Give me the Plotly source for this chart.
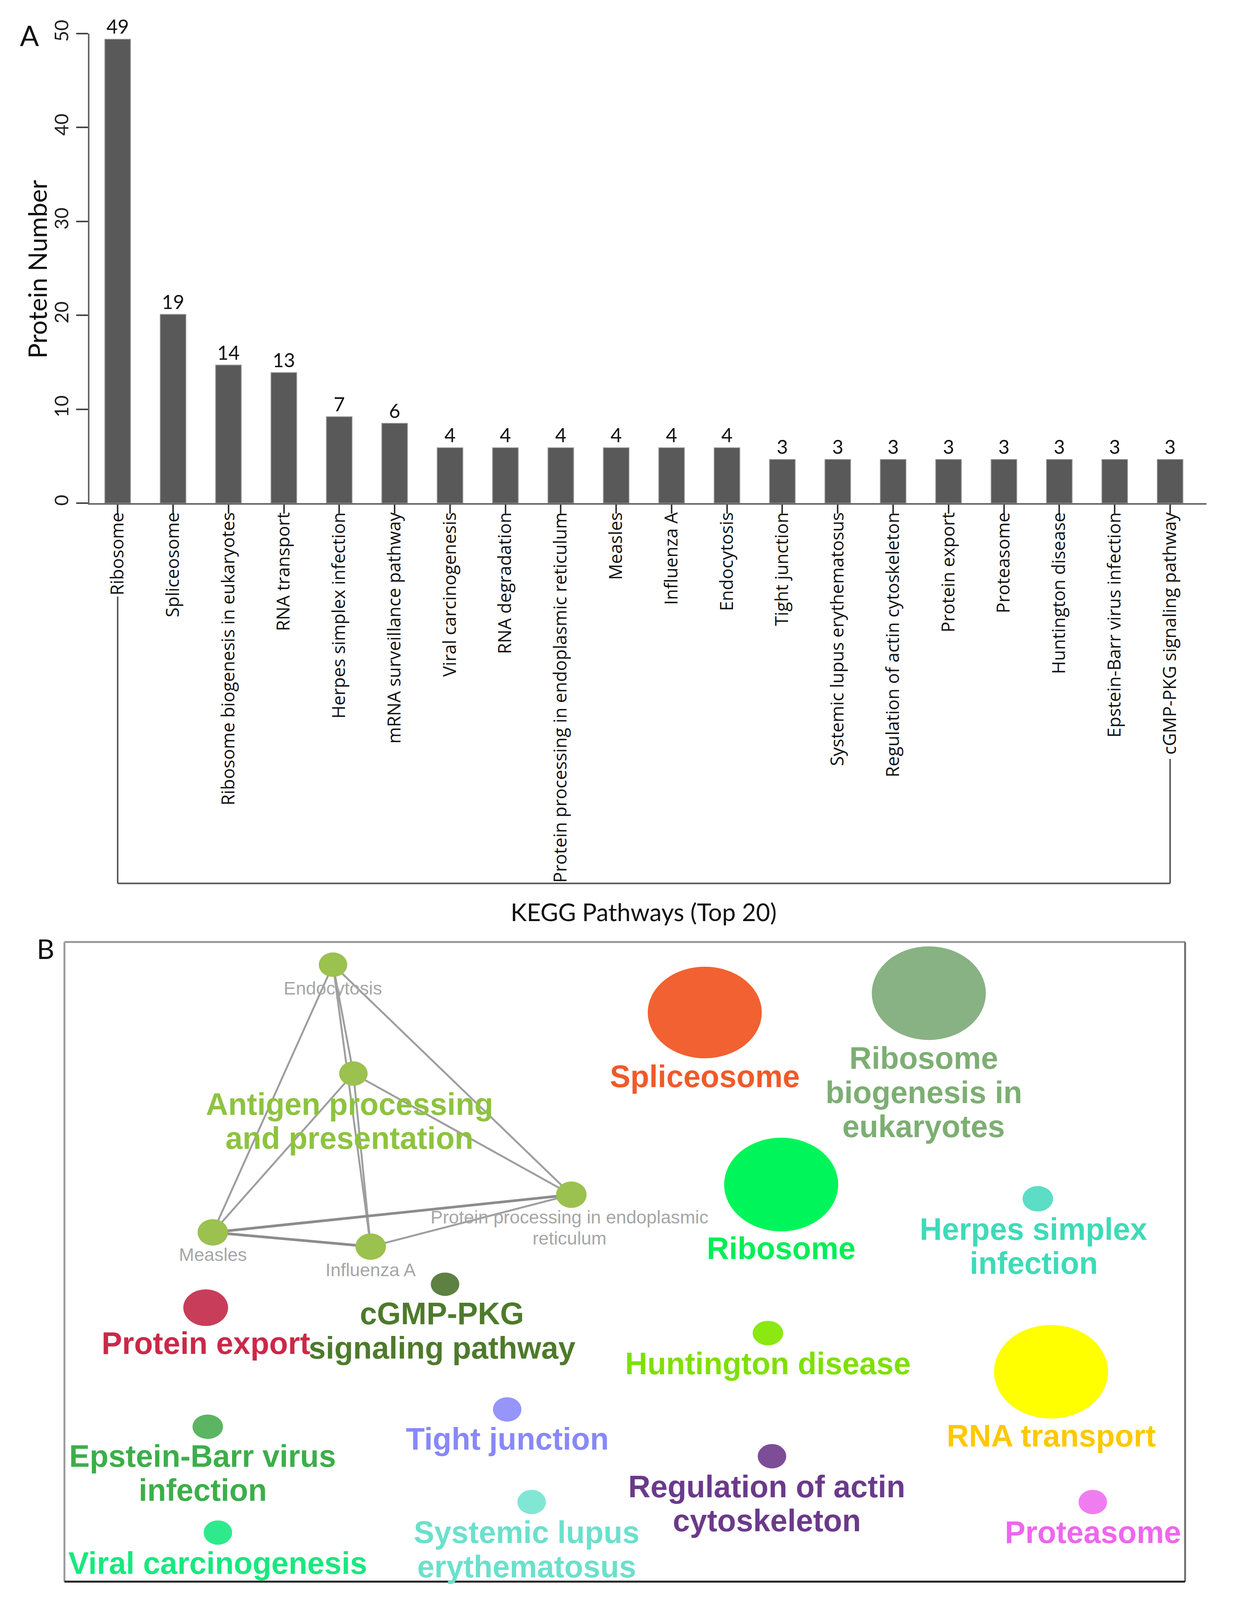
import plotly.graph_objects as go

# Calibration of the photographed page against the 3202x4215 reference grid
# (measured from earlier renders): device = KX*css_x ; device = KY*css_y + OY
KX, KY, OY = 1.0323, 1.0227, 31.6
WC = int(round(3202 / KX))
HC = int(round((4215 - OY) / KY))
KF = 1.028


def fx(d):
    return (d / KX) / WC


def fy(d):
    return 1 - ((d - OY) / KY) / HC


def fs(d):
    return d / KF


# ---------------- Panel A data ----------------
pathways = [
    "Ribosome", "Spliceosome", "Ribosome biogenesis in eukaryotes", "RNA transport",
    "Herpes simplex infection", "mRNA surveillance pathway", "Viral carcinogenesis",
    "RNA degradation", "Protein processing in endoplasmic reticulum", "Measles",
    "Influenza A", "Endocytosis", "Tight junction", "Systemic lupus erythematosus",
    "Regulation of actin cytoskeleton", "Protein export", "Proteasome",
    "Huntington disease", "Epstein-Barr virus infection", "cGMP-PKG signaling pathway",
]
protein_counts = [49, 19, 14, 13, 7, 6, 4, 4, 4, 4, 4, 4, 3, 3, 3, 3, 3, 3, 3, 3]
bar_heights = [49.4, 20.1, 14.7, 13.9, 9.2, 8.5, 5.9, 5.9, 5.9, 5.9, 5.9, 5.9,
               4.65, 4.65, 4.65, 4.65, 4.65, 4.65, 4.65, 4.65]
y_ticks = [0, 10, 20, 30, 40, 50]

# ---------------- Panel B data (network layout units) ----------------
node_names = [
    "Endocytosis", "Antigen processing and presentation",
    "Protein processing in endoplasmic reticulum", "Measles", "Influenza A",
    "Spliceosome", "Ribosome biogenesis in eukaryotes", "Ribosome",
    "Herpes simplex infection", "cGMP-PKG signaling pathway", "Protein export",
    "Huntington disease", "RNA transport", "Epstein-Barr virus infection",
    "Tight junction", "Regulation of actin cytoskeleton",
    "Systemic lupus erythematosus", "Viral carcinogenesis", "Proteasome",
]
node_x = [325, 345, 559, 207, 362, 690, 910, 765, 1017, 435, 200, 752, 1030, 202, 496, 756, 520, 212, 1071]
node_y = [945, 1052, 1171, 1208, 1222, 992, 973, 1161, 1175, 1259, 1282, 1307, 1345, 1399, 1382, 1428, 1473, 1503, 1473]
node_w = [28, 28, 30, 30, 30, 112, 112, 112, 30, 28, 44, 30, 112, 30, 28, 28, 28, 28, 28]
node_h = [24, 24, 26, 26, 26, 90, 92, 92, 25, 23, 36, 24, 92, 24, 24, 24, 24, 24, 24]
node_color = ["#9bc14e", "#9bc14e", "#9bc14e", "#9bc14e", "#9bc14e", "#f26131",
              "#88b283", "#00f55a", "#5cdec6", "#5e8043", "#c83e5a", "#8be810",
              "#ffff00", "#5bb562", "#9595fa", "#7e4d98", "#82e6d5", "#2fea8c", "#f07df0"]

label_text = [
    "Endocytosis", "Antigen processing<br>and presentation",
    "Protein processing in endoplasmic<br>reticulum", "Measles", "Influenza A",
    "Spliceosome", "Ribosome<br>biogenesis in<br>eukaryotes", "Ribosome",
    "Herpes simplex<br>infection", "cGMP-PKG<br>signaling pathway", "Protein export",
    "Huntington disease", "RNA transport", "Epstein-Barr virus<br>infection",
    "Tight junction", "Regulation of actin<br>cytoskeleton",
    "Systemic lupus<br>erythematosus", "Viral carcinogenesis", "Proteasome",
]
label_x = [325, 341, 557, 207, 362, 690, 905, 765, 1013, 432, 200, 752, 1030, 197, 496, 751, 515, 212, 1071]
label_y = [968, 1082, 1193, 1230, 1245, 1055, 1037, 1224, 1205, 1288, 1317, 1337, 1408, 1428, 1411, 1458, 1503, 1533, 1503]
label_color = ["#a6a6a6", "#8dc33f", "#a6a6a6", "#a6a6a6", "#a6a6a6", "#f15a29",
               "#7dae73", "#00ee55", "#3ddbb8", "#4e7a2c", "#cc2848", "#7ee000",
               "#ffc800", "#3dae4a", "#8888f8", "#6b3a8a", "#6be0cc", "#18e87e", "#ee66ee"]
label_big = [False, True, False, False, False, True, True, True, True, True, True,
             True, True, True, True, True, True, True, True]

edges = [(0, 1), (0, 2), (0, 3), (0, 4), (1, 2), (1, 3), (1, 4), (2, 3), (2, 4), (3, 4)]
edge_strong = [(2, 3), (3, 4)]

# ---------------- Figure ----------------
fig = go.Figure()

fig.add_trace(go.Bar(
    x=pathways, y=bar_heights, text=[str(c) for c in protein_counts],
    textposition="outside", cliponaxis=False, width=0.464,
    marker=dict(color="#595959", line=dict(color="#9a9a9a", width=fs(2))),
    textfont=dict(family="Lato", size=fs(51), color="#111111"),
    xaxis="x", yaxis="y", hoverinfo="skip",
))

for strong in (False, True):
    ex, ey = [], []
    for a, b in edges:
        if ((a, b) in edge_strong) != strong:
            continue
        ex += [node_x[a], node_x[b], None]
        ey += [node_y[a], node_y[b], None]
    fig.add_trace(go.Scatter(
        x=ex, y=ey, mode="lines",
        line=dict(color="#8c8c8c" if strong else "#9e9e9e", width=fs(7 if strong else 5)),
        xaxis="x2", yaxis="y2", hoverinfo="skip",
    ))

shapes = []
for cx, cy, w, h, c in zip(node_x, node_y, node_w, node_h, node_color):
    shapes.append(dict(type="circle", xref="x2", yref="y2",
                       x0=cx - w / 2, x1=cx + w / 2, y0=cy - h / 2, y1=cy + h / 2,
                       fillcolor=c, line=dict(width=0), layer="above"))

# bracket under the panel A category labels
bcol = "#555555"
bw = fs(4)
shapes += [
    dict(type="line", xref="x", yref="paper", x0=pathways[0], x1=pathways[0],
         y0=fy(1565), y1=fy(2324), line=dict(color=bcol, width=bw)),
    dict(type="line", xref="x", yref="paper", x0=pathways[0], x1=pathways[-1],
         y0=fy(2324), y1=fy(2324), line=dict(color=bcol, width=bw)),
    dict(type="line", xref="x", yref="paper", x0=pathways[-1], x1=pathways[-1],
         y0=fy(2324), y1=fy(1995), line=dict(color=bcol, width=bw)),
]

# panel B frame
bx0, bx1, by0, by1 = 162, 3123, 2479, 4171
for (x0, y0, x1, y1, col) in [
    (bx0, by0, bx1, by0, "#9a9a9a"),
    (bx0, by0, bx0, by1, "#9a9a9a"),
    (bx1, by0, bx1, by1, "#6e6e6e"),
    (bx0, by1, bx1, by1, "#222222"),
]:
    shapes.append(dict(type="line", xref="paper", yref="paper",
                       x0=fx(x0), x1=fx(x1), y0=fy(y0), y1=fy(y1),
                       line=dict(color=col, width=fs(5)), layer="above"))

annotations = []
for t, x, y, c, big in zip(label_text, label_x, label_y, label_color, label_big):
    lines = t.split("<br>")
    step = 33.5 if big else 21
    for i, ln in enumerate(lines):
        annotations.append(dict(
            text=ln, x=x, y=y + i * step, xref="x2", yref="y2", showarrow=False,
            xanchor="center", yanchor="middle",
            font=dict(family="Liberation Sans, Arial", size=fs(81 if big else 48),
                      color=c, weight="bold" if big else "normal"),
        ))


def txt(s, x, y, size, angle=0):
    return dict(text=s, x=fx(x), y=fy(y), xref="paper", yref="paper", showarrow=False,
                xanchor="center", yanchor="middle", textangle=angle,
                font=dict(family="Lato", size=fs(size), color="#111111"))


annotations += [
    txt("A", 70, 80, 74),
    txt("B", 112, 2496, 72),
    txt("Protein Number", 90, 700, 67, -90),
    txt("KEGG Pathways (Top 20)", 1692, 2399, 64),
]

fig.update_layout(
    width=WC, height=HC, margin=dict(l=0, r=0, t=0, b=0),
    paper_bgcolor="white", plot_bgcolor="white", showlegend=False,
    shapes=shapes, annotations=annotations,
    xaxis=dict(domain=[fx(228), fx(3180)], range=[-0.51, 19.66], showline=True,
               linecolor="#666666", linewidth=fs(4), ticks="outside", ticklen=fs(24),
               tickwidth=fs(4), tickcolor="#333333", tickangle=-90, showgrid=False,
               ticklabelstandoff=-22,
               tickfont=dict(family="Open Sans", size=46.8 / KY, color="#111111"),
               anchor="y"),
    yaxis=dict(domain=[fy(1318), fy(76)], range=[0, 50], tickvals=y_ticks,
               showline=True, linecolor="#666666", linewidth=fs(4), ticks="outside",
               ticklen=fs(31), tickwidth=fs(4), tickcolor="#444444", tickangle=-90,
               showgrid=False, zeroline=False,
               tickfont=dict(family="Lato", size=fs(50), color="#222222"), anchor="x"),
    xaxis2=dict(domain=[fx(162), fx(3123)], range=[61.3, 1161.6], visible=False,
                anchor="y2"),
    yaxis2=dict(domain=[fy(4171), fy(2479)], range=[1551.2, 922.7], visible=False,
                anchor="x2"),
)

fig.write_html("out.html")
